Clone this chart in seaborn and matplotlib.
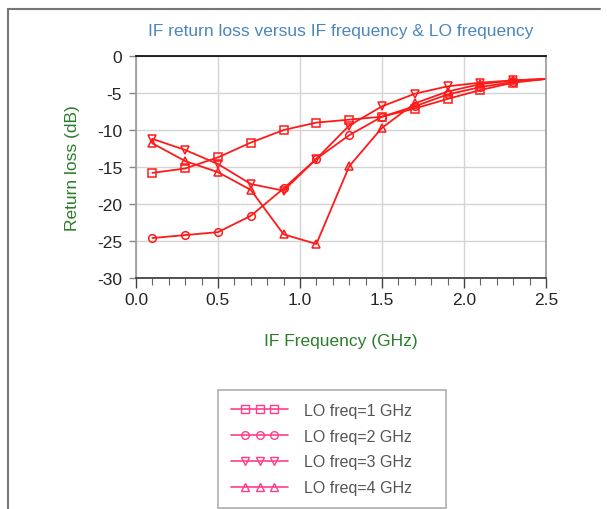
import matplotlib
matplotlib.use("Agg")
import matplotlib.pyplot as plt
from matplotlib.lines import Line2D
from matplotlib.legend_handler import HandlerLine2D, HandlerTuple
from matplotlib.ticker import MultipleLocator
import seaborn as sns
import pandas as pd

# ── Data ─────────────────────────────────────────────────────────────────────
IF_FREQ = [0.1, 0.3, 0.5, 0.7, 0.9, 1.1, 1.3, 1.5, 1.7, 1.9, 2.1, 2.3, 2.5]
LO_1GHZ = [-15.8, -15.2, -13.7, -11.7, -10.0, -9.0, -8.6, -8.2, -7.1, -5.8, -4.6, -3.6, -3.1]
LO_2GHZ = [-24.6, -24.2, -23.8, -21.6, -17.9, -13.9, -10.7, -8.2, -6.8, -5.2, -4.2, -3.5, -3.1]
LO_3GHZ = [-11.2, -12.7, -14.6, -17.3, -18.2, -13.9, -9.4, -6.8, -5.1, -4.1, -3.6, -3.3, -3.1]
LO_4GHZ = [-11.8, -14.2, -15.7, -18.1, -24.1, -25.4, -14.9, -9.7, -6.4, -4.8, -3.8, -3.3, -3.1]

SERIES = [
    ("LO freq=1 GHz", LO_1GHZ, "s"),
    ("LO freq=2 GHz", LO_2GHZ, "o"),
    ("LO freq=3 GHz", LO_3GHZ, "v"),
    ("LO freq=4 GHz", LO_4GHZ, "^"),
]

LINE_RED = "#ff1a1a"
LEGEND_PINK = "#ff3d8b"
GREEN = "#2a7d2a"
BLUE = "#4a86bf"

sns.set_theme(style="white")
plt.rcParams["font.family"] = ["Liberation Sans", "DejaVu Sans"]
plt.rcParams["axes.unicode_minus"] = False

fig = plt.figure(figsize=(6.07, 5.10), dpi=100)
ax = fig.add_axes([136 / 607, 1 - 279 / 510, 410 / 607, 222 / 510])

for label, vals, mk in SERIES:
    df = pd.DataFrame({"IF Frequency (GHz)": IF_FREQ, "Return loss (dB)": vals})
    sns.lineplot(data=df, x="IF Frequency (GHz)", y="Return loss (dB)", ax=ax,
                 color=LINE_RED, marker=mk, markersize=5.5, mfc="none",
                 mec=LINE_RED, mew=1.1, linewidth=1.3, legend=False,
                 markevery=list(range(len(IF_FREQ) - 1)))

ax.set_xlim(0, 2.5)
ax.set_ylim(-30, 0)
ax.xaxis.set_major_locator(MultipleLocator(0.5))
ax.xaxis.set_minor_locator(MultipleLocator(0.1))
ax.yaxis.set_major_locator(MultipleLocator(5))
ax.set_xticklabels([f"{v:.1f}" for v in ax.get_xticks()])
ax.grid(True, which="major", color="#d4d4d4", linewidth=1.0)
ax.set_axisbelow(True)

ax.tick_params(axis="x", which="major", direction="out", length=7, width=1,
               color="#444444", labelsize=12.5, pad=3, bottom=True)
ax.tick_params(axis="x", which="minor", direction="out", length=5, width=0.8,
               color="#666666", bottom=True)
ax.tick_params(axis="y", which="major", direction="out", length=5, width=1,
               color="#888888", labelsize=12.5, pad=5, left=True)

for side, col in [("top", "black"), ("bottom", "#333333"),
                  ("left", "#999999"), ("right", "#999999")]:
    ax.spines[side].set_color(col)
    ax.spines[side].set_linewidth(1.2)

ax.set_xlabel("IF Frequency (GHz)", color=GREEN, fontsize=12.5, labelpad=19)
ax.set_ylabel("Return loss (dB)", color=GREEN, fontsize=12.5, labelpad=12)
ax.set_title("IF return loss versus IF frequency & LO frequency",
             color=BLUE, fontsize=12.5, pad=15)

# legend below the plot: full-length line with three markers bunched in the middle
handles, hmap = [], {}
for _, _, mk in SERIES:
    ln = Line2D([0], [0], color=LEGEND_PINK, linewidth=1.2)
    pts = Line2D([0], [0], color=LEGEND_PINK, marker=mk, mfc="none",
                 mec=LEGEND_PINK, markersize=5.5, linestyle="none")
    hmap[ln] = HandlerLine2D(numpoints=2, marker_pad=0)
    hmap[pts] = HandlerLine2D(numpoints=3, marker_pad=0.9)
    handles.append((ln, pts))
hmap[tuple] = HandlerTuple(ndivide=1)

LEG_H = 0.05
leg = fig.legend(handles, [s[0] for s in SERIES], loc="upper left",
                 bbox_to_anchor=(218 / 607, 1 - 391 / 510 - LEG_H, 228 / 607, LEG_H),
                 mode="expand", handler_map=hmap,
                 handlelength=3.6, fontsize=11.5, labelspacing=0.68,
                 borderpad=0.8, handletextpad=1.0, frameon=True,
                 fancybox=False, edgecolor="#999999", borderaxespad=0)
leg.get_frame().set_linewidth(1.2)
for t in leg.get_texts():
    t.set_color("#555555")

# outer frame (left and top edges visible)
fig.add_artist(Line2D([8 / 607, 8 / 607], [0, 1 - 10 / 510],
                      transform=fig.transFigure, color="#777777", linewidth=1.5))
fig.add_artist(Line2D([8 / 607, 600 / 607], [1 - 10 / 510, 1 - 10 / 510],
                      transform=fig.transFigure, color="#777777", linewidth=1.5))

plt.savefig("out.png", dpi=100)
plt.close()
